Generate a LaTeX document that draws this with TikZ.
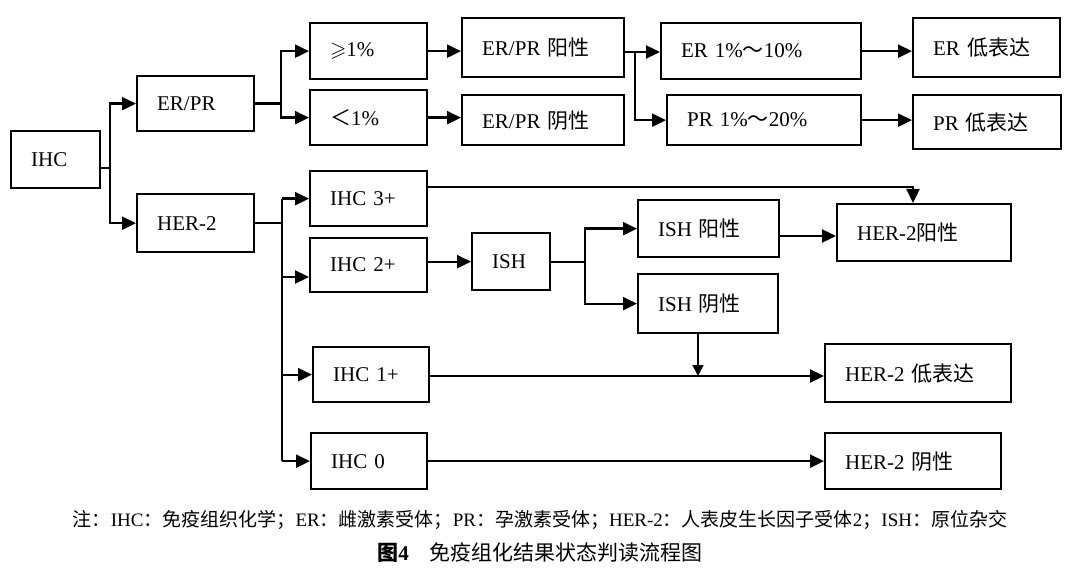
\documentclass[tikz,border=0pt]{standalone}
\usepackage{fontspec}
\setmainfont{Liberation Serif}
\newfontfamily\cjk{Noto Sans CJK SC}
\usepackage{amssymb}
\usetikzlibrary{arrows.meta}

\tikzset{
  caja/.style={draw, line width=1.15pt, anchor=north west, inner xsep=10pt, inner ysep=0pt,
    align=left, font=\fontsize{10.5}{12}\selectfont},
  linea/.style={line width=1.15pt},
  flecha/.style={linea, -{Triangle[length=7pt,width=6.5pt]}},
  flechita/.style={line width=0.8pt, -{Triangle[length=5.5pt,width=5.5pt]}},
}

\begin{document}
\begin{tikzpicture}[x=0.5pt,y=-0.5pt]
        \useasboundingbox (0,0) rectangle (1080,572);
        % cajas
        \node[caja, minimum width=44.5pt, minimum height=28.5pt, text width=24.5pt] (ihc) at (10,130) {IHC};
        \node[caja, minimum width=58.5pt, minimum height=27.5pt, text width=38.5pt] (erpr) at (136,75) {ER/PR};
        \node[caja, minimum width=58.5pt, minimum height=29pt, text width=38.5pt] (her) at (136,193) {HER-2};
        \node[caja, minimum width=58.5pt, minimum height=28pt, text width=38.5pt] (geq) at (309,22) {$\geqslant$1\%};
        \node[caja, minimum width=58.5pt, minimum height=27.5pt, text width=38.5pt] (lt) at (309,89) {{\cjk ＜}1\%};
        \node[caja, minimum width=81pt, minimum height=29.5pt, text width=61pt] (erprpos) at (461,17) {ER/PR {\cjk 阳性}};
        \node[caja, minimum width=81pt, minimum height=25pt, text width=61pt] (erprneg) at (461,94) {ER/PR {\cjk 阴性}};
        \node[caja, minimum width=100pt, minimum height=28pt, text width=80pt] (erlev) at (660,22) {ER 1\%{\cjk ～}10\%};
        \node[caja, minimum width=97pt, minimum height=25pt, text width=77pt] (prlev) at (666,94) {PR 1\%{\cjk ～}20\%};
        \node[caja, minimum width=73.5pt, minimum height=29.5pt, text width=53.5pt] (erlow) at (912,17) {ER {\cjk 低表达}};
        \node[caja, minimum width=74pt, minimum height=27pt, text width=54pt] (prlow) at (912,94) {PR {\cjk 低表达}};
        \node[caja, minimum width=58.5pt, minimum height=27.5pt, text width=38.5pt] (ihcthree) at (309,170) {IHC 3+};
        \node[caja, minimum width=58.5pt, minimum height=27pt, text width=38.5pt] (ihctwo) at (309,237) {IHC 2+};
        \node[caja, minimum width=39pt, minimum height=28.5pt, text width=19pt] (ish) at (471,232) {ISH};
        \node[caja, minimum width=70.5pt, minimum height=28.5pt, text width=50.5pt] (ishpos) at (637,199) {ISH {\cjk 阳性}};
        \node[caja, minimum width=70pt, minimum height=29.5pt, text width=50pt] (ishneg) at (637,273) {ISH {\cjk 阴性}};
        \node[caja, minimum width=87pt, minimum height=28.5pt, text width=67pt] (herpos) at (836,203) {HER-2{\cjk 阳性}};
        \node[caja, minimum width=58pt, minimum height=27.5pt, text width=38pt] (ihcone) at (312,346) {IHC 1+};
        \node[caja, minimum width=93pt, minimum height=29pt, text width=73pt] (herlow) at (824,343) {HER-2 {\cjk 低表达}};
        \node[caja, minimum width=58pt, minimum height=28pt, text width=38pt] (ihczero) at (310,432) {IHC 0};
        \node[caja, minimum width=88pt, minimum height=28pt, text width=68pt] (herneg) at (824,432) {HER-2 {\cjk 阴性}};
        % nudos de las ramas
        \coordinate (a) at (110,168);
        \coordinate (b) at (281,0);
        \coordinate (c) at (635,52);
        \coordinate (d) at (282,0);
        \coordinate (d2) at (0,277);
        \coordinate (f) at (913,187);
        \coordinate (g) at (585,0);
        \coordinate (h) at (0,236);
        \coordinate (k) at (698,376);
        % IHC
        \draw[linea] (ihc.east |- a) -- (a);
        \draw[flecha] (a) |- (erpr.west);
        \draw[flecha] (a) |- (her.west);
        % ER/PR
        \draw[linea] (erpr.east) -- (erpr.east -| b);
        \draw[flecha] (erpr.east -| b) |- (geq.west);
        \draw[flecha] (erpr.east -| b) |- (lt.west);
        \draw[flecha] (geq.east) -- (geq.east -| erprpos.west);
        \draw[flecha] (lt.east) -- (lt.east -| erprneg.west);
        \draw[linea] (erprpos.east |- c) -- (c);
        \draw[flecha] (c) -- (c -| erlev.west);
        \draw[flecha] (c) |- (prlev.west);
        \draw[flecha] (erlev.east) -- (erlev.east -| erlow.west);
        \draw[flecha] (prlev.east) -- (prlev.east -| prlow.west);
        % HER-2
        \draw[linea] (her.east) -- (her.east -| d);
        \draw[linea] (d |- ihcthree.west) -- (d |- ihczero.west);
        \draw[flecha] (d |- ihcthree.west) -- (ihcthree.west);
        \draw[flecha] (d |- d2) -- (ihctwo.west |- d2);
        \draw[flecha] (d |- ihcone.west) -- (ihcone.west);
        \draw[flecha] (d |- ihczero.west) -- (ihczero.west);
        \draw[flecha] (ihcthree.east |- f) -| (herpos.north -| f);
        \draw[flecha] (ish.west -| ihctwo.east) -- (ish.west);
        \draw[linea] (ish.east) -- (ish.east -| g);
        \draw[flecha] (ish.east -| g) |- (ishpos.west);
        \draw[flecha] (ish.east -| g) |- (ishneg.west);
        \draw[flecha] (ishpos.east |- h) -- (herpos.west |- h);
        \draw[flechita] (k |- ishneg.south) -- (k);
        \draw[flecha] (ihcone.east |- k) -- (herlow.west |- k);
        \draw[flecha] (ihczero.east) -- (ihczero.east -| herneg.west);
        % nota y titulo
        \node[font=\fontsize{9.5}{11}\selectfont] (nota) at (540,520)
          {{\cjk 注：}IHC{\cjk ：免疫组织化学；}ER{\cjk ：雌激素受体；}PR{\cjk ：孕激素受体；}HER-2{\cjk ：人表皮生长因子受体}2{\cjk ；}ISH{\cjk ：原位杂交}};
        \node[font=\fontsize{10.5}{12}\selectfont] (titulo) at (540,553)
          {{\cjk\bfseries 图}{\bfseries 4}{\cjk 　免疫组化结果状态判读流程图}};
\end{tikzpicture}
\end{document}
